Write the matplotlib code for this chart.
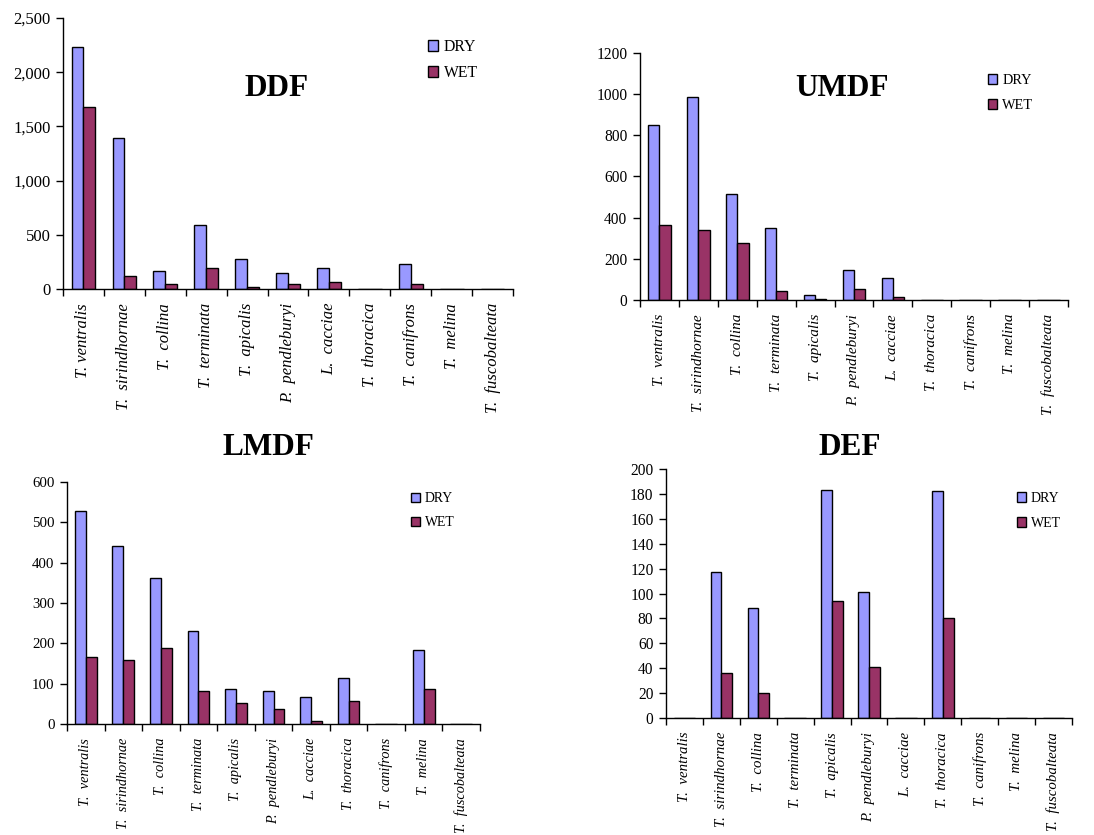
import numpy as np
import matplotlib
matplotlib.use("Agg")
import matplotlib.pyplot as plt
from matplotlib.ticker import FuncFormatter

plt.rcParams['font.family'] = ['Liberation Serif', 'DejaVu Serif']

species = ["T.  ventralis", "T.  sirindhornae", "T.  collina", "T.  terminata",
           "T.  apicalis", "P.  pendleburyi", "L.  cacciae", "T.  thoracica",
           "T.  canifrons", "T.  melina", "T.  fuscobalteata"]
species_ddf = ["T. ventralis"] + species[1:]

# abundance per forest type, dry and wet season
ddf_dry = [2230, 1395, 166, 588, 280, 145, 191, 0, 234, 0, 0]
ddf_wet = [1675, 123, 43, 191, 15, 43, 65, 0, 43, 0, 0]
umdf_dry = [850, 985, 514, 352, 26, 147, 108, 0, 0, 0, 0]
umdf_wet = [362, 341, 276, 42, 6, 53, 16, 0, 0, 0, 0]
lmdf_dry = [528, 442, 361, 231, 87, 82, 68, 113, 0, 183, 0]
lmdf_wet = [167, 158, 188, 82, 52, 37, 7, 57, 0, 87, 0]
def_dry = [0, 117, 88, 0, 183, 101, 0, 182, 0, 0, 0]
def_wet = [0, 36, 20, 0, 94, 41, 0, 80, 0, 0, 0]

dry_col = '#9999FF'
wet_col = '#993366'

W, H = 1094, 835
fig = plt.figure(figsize=(W / 100, H / 100), dpi=100)


def px_axes(l, t, r, b):
    return fig.add_axes([l / W, 1 - b / H, (r - l) / W, (b - t) / H])


def draw(ax, dry, wet, labels, ymax, ystep, xfs, yfs, comma=False):
    x = np.arange(len(labels))
    w = 0.29
    ax.bar(x - w / 2, dry, w, color=dry_col, edgecolor='black', linewidth=1, label='DRY')
    ax.bar(x + w / 2, wet, w, color=wet_col, edgecolor='black', linewidth=1, label='WET')
    ax.set_xlim(-0.5, len(labels) - 0.5)
    ax.set_ylim(0, ymax)
    ax.set_yticks(np.arange(0, ymax + 1, ystep))
    if comma:
        ax.yaxis.set_major_formatter(FuncFormatter(lambda v, p: f"{int(v):,}"))
    ax.set_xticks(x)
    ax.set_xticklabels(labels, rotation=90, va='top', ha='center',
                       fontstyle='italic', fontsize=xfs)
    ax.set_xticks(np.arange(-0.5, len(labels)), minor=True)
    ax.tick_params(axis='x', which='major', length=0, pad=10)
    ax.tick_params(axis='x', which='minor', length=5, width=1, direction='out')
    ax.tick_params(axis='y', length=5, width=1, direction='out', labelsize=yfs, pad=4)
    ax.spines['top'].set_visible(False)
    ax.spines['right'].set_visible(False)
    for s in ['left', 'bottom']:
        ax.spines[s].set_linewidth(1)


def legend(ax, x, y, fs, sp):
    ax.legend(loc='upper left', bbox_to_anchor=(x / W, 1 - y / H),
              bbox_transform=fig.transFigure, frameon=False, fontsize=fs,
              handlelength=0.65, handleheight=0.65, handletextpad=0.35,
              labelspacing=sp, borderpad=0, borderaxespad=0)


ax1 = px_axes(63, 18, 513, 289)
draw(ax1, ddf_dry, ddf_wet, species_ddf, 2500, 500, 12, 12, comma=True)
legend(ax1, 428, 39, 11.3, 0.65)
fig.text(277 / W, 1 - 88 / H, "DDF", ha='center', va='center', fontsize=22.5, fontweight='bold')

ax2 = px_axes(640, 53, 1068, 300)
draw(ax2, umdf_dry, umdf_wet, species, 1200, 200, 11, 11.2)
legend(ax2, 988, 74, 10.3, 0.85)
fig.text(842 / W, 1 - 88 / H, "UMDF", ha='center', va='center', fontsize=22.5, fontweight='bold')

ax3 = px_axes(67, 482, 480, 724)
draw(ax3, lmdf_dry, lmdf_wet, species, 600, 100, 10.3, 10.7)
legend(ax3, 411, 492, 9.9, 0.8)
fig.text(268 / W, 1 - 447 / H, "LMDF", ha='center', va='center', fontsize=22.5, fontweight='bold')

ax4 = px_axes(666, 469, 1072, 718)
draw(ax4, def_dry, def_wet, species, 200, 20, 10.7, 11.2)
legend(ax4, 1017, 492, 10, 0.85)
fig.text(850 / W, 1 - 447 / H, "DEF", ha='center', va='center', fontsize=22.5, fontweight='bold')

fig.savefig("out.png", dpi=100)
